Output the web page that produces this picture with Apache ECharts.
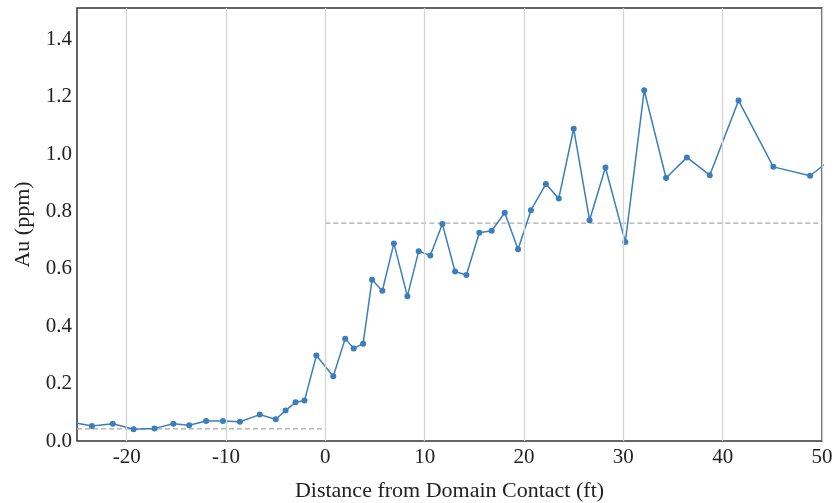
<!DOCTYPE html>
<html>
<head>
<meta charset="utf-8">
<script src="https://cdn.jsdelivr.net/npm/echarts@6/dist/echarts.min.js"></script>
<style>
  html, body { margin: 0; padding: 0; background: #fff; }
  #chart { width: 835px; height: 503px; }
</style>
</head>
<body>
<div id="chart"></div>
<script>
// Au assays along a traverse across the domain contact
const distanceFt = [-26.5, -23.5, -21.4, -19.3, -17.2, -15.3, -13.7, -12.0, -10.3, -8.6,
  -6.6, -5.0, -4.0, -3.0, -2.1, -0.9, 0.8, 2.0, 2.85, 3.8,
  4.7, 5.74, 6.9, 8.26, 9.4, 10.57, 11.78, 13.06, 14.2, 15.5,
  16.75, 18.06, 19.4, 20.7, 22.2, 23.5, 25.0, 26.6, 28.2, 30.2,
  32.1, 34.3, 36.4, 38.7, 41.6, 45.1, 48.8, 51.2];
const auPpm = [0.072, 0.052, 0.060, 0.041, 0.044, 0.060, 0.055, 0.070, 0.070, 0.067,
  0.092, 0.076, 0.106, 0.135, 0.141, 0.298, 0.226, 0.357, 0.323, 0.339,
  0.562, 0.524, 0.689, 0.505, 0.662, 0.647, 0.757, 0.591, 0.579, 0.726,
  0.733, 0.796, 0.669, 0.805, 0.896, 0.846, 1.089, 0.770, 0.954, 0.694,
  1.223, 0.917, 0.989, 0.927, 1.187, 0.956, 0.925, 0.990];

// Mean grade on each side of the contact
const meanBefore = { from: -25, to: 0, value: 0.042 };
const meanAfter = { from: 0, to: 50, value: 0.76 };

const xTicks = [-20, -10, 0, 10, 20, 30, 40, 50];
const yTicks = [0.0, 0.2, 0.4, 0.6, 0.8, 1.0, 1.2, 1.4];

const FONT = '"Liberation Serif", "DejaVu Serif", serif';
const MEAN_STYLE = { color: '#a8a8a8', width: 1.3, type: [5, 3] };

const chart = echarts.init(document.getElementById('chart'), null, { renderer: 'canvas' });

chart.setOption({
  animation: false,
  backgroundColor: '#ffffff',
  grid: {
    left: 77, right: 13, top: 8, bottom: 62,
    containLabel: false,
    outerBoundsMode: 'none',
    show: true, borderColor: '#333333', borderWidth: 1.5, backgroundColor: 'transparent'
  },
  xAxis: {
    type: 'value',
    min: -25, max: 50, interval: 5,
    name: 'Distance from Domain Contact (ft)',
    nameLocation: 'middle', nameGap: 39,
    nameTextStyle: { fontFamily: FONT, fontSize: 22, color: '#222' },
    axisLine: { show: false },
    axisTick: { show: false },
    splitLine: { show: false },
    axisLabel: {
      fontFamily: FONT, fontSize: 21, color: '#222', margin: 6,
      formatter: v => (xTicks.includes(v) ? String(v) : '')
    }
  },
  yAxis: {
    type: 'value',
    min: 0, max: 1.51, interval: 0.2,
    name: 'Au (ppm)',
    nameLocation: 'middle', nameGap: 43,
    nameTextStyle: { fontFamily: FONT, fontSize: 22, color: '#222' },
    axisLine: { show: false },
    axisTick: { show: false },
    splitLine: { show: false },
    axisLabel: {
      fontFamily: FONT, fontSize: 21, color: '#222', margin: 5,
      showMaxLabel: false,
      formatter: v => {
        const t = yTicks.find(k => Math.abs(k - v) < 1e-6);
        return t === undefined ? '' : t.toFixed(1);
      }
    }
  },
  series: [
    {
      // vertical grid lines at the labelled distances
      type: 'line',
      data: [],
      markLine: {
        silent: true,
        symbol: 'none',
        label: { show: false },
        lineStyle: { color: '#d4d4d4', width: 1.3, type: 'solid' },
        data: xTicks.map(v => ({ xAxis: v }))
      },
      z: 0
    },
    {
      type: 'line',
      data: [[meanBefore.from, meanBefore.value], [meanBefore.to, meanBefore.value]],
      symbol: 'none',
      lineStyle: MEAN_STYLE,
      z: 1
    },
    {
      type: 'line',
      data: [[meanAfter.from, meanAfter.value], [meanAfter.to, meanAfter.value]],
      symbol: 'none',
      lineStyle: MEAN_STYLE,
      z: 1
    },
    {
      type: 'line',
      data: distanceFt.map((d, i) => [d, auPpm[i]]),
      clip: true,
      symbol: 'circle',
      symbolSize: 6,
      lineStyle: { color: '#3a7ebf', width: 1.5 },
      itemStyle: { color: '#3a7ebf' },
      z: 3
    }
  ]
});
</script>
</body>
</html>
